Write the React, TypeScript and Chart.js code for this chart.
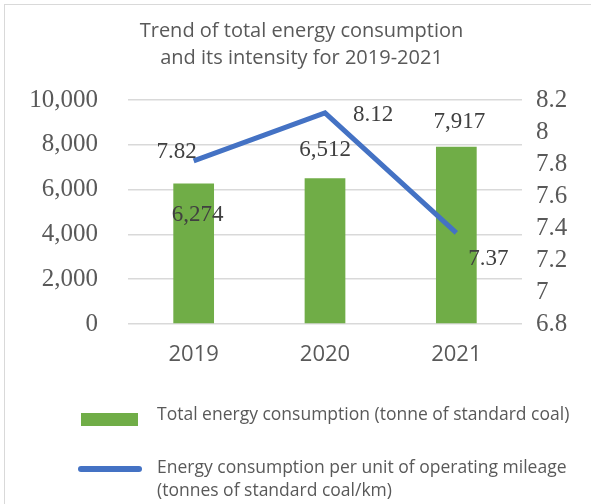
import React, { useEffect, useRef } from "react";
import { Chart, registerables } from "chart.js";

Chart.register(...registerables);

const years = ["2019", "2020", "2021"];
const totalConsumption = [6274, 6512, 7917];
const intensity = [7.82, 8.12, 7.37];
const leftTicks = [0, 2000, 4000, 6000, 8000, 10000];
const rightTicks = [6.8, 7, 7.2, 7.4, 7.6, 7.8, 8, 8.2];
const titleLines = ["Trend of total energy consumption", "and its intensity for 2019-2021"];
const legendBar = "Total energy consumption (tonne of standard coal)";
const legendLine = ["Energy consumption per unit of operating mileage", "(tonnes of standard coal/km)"];

// label placement offsets (pixels from element point / bar top)
const barLabelOffsets = [
  [4, 31],
  [0, -28],
  [3, -25],
];
const lineLabelOffsets = [
  [-17, -9],
  [48, 2],
  [32, 26],
];

const GREEN = "#70AD47";
const BLUE = "#4472C4";
const SERIF = "'Liberation Serif', 'Times New Roman', serif";
const SANS = "'Open Sans', 'Noto Sans', sans-serif";

const fmt = (v: number) => v.toLocaleString("en-US");

const labelPlugin = {
  id: "customLabels",
  afterDatasetsDraw(chart: any) {
    const ctx = chart.ctx;
    ctx.save();
    ctx.font = `23px ${SERIF}`;
    ctx.fillStyle = "#404040";
    ctx.textAlign = "center";
    ctx.textBaseline = "middle";
    const barMeta = chart.getDatasetMeta(0);
    barMeta.data.forEach((el: any, i: number) => {
      const [dx, dy] = barLabelOffsets[i];
      ctx.fillText(fmt(totalConsumption[i]), el.x + dx, el.y + dy);
    });
    const lineMeta = chart.getDatasetMeta(1);
    lineMeta.data.forEach((el: any, i: number) => {
      const [dx, dy] = lineLabelOffsets[i];
      ctx.fillText(intensity[i].toFixed(2), el.x + dx, el.y + dy);
    });
    // title
    ctx.font = `20px ${SANS}`;
    ctx.fillStyle = "#595959";
    titleLines.forEach((t, i) => ctx.fillText(t, 301.5, 31 + i * 27));
    ctx.restore();
  },
};

export default function App() {
  const ref = useRef<HTMLCanvasElement | null>(null);
  useEffect(() => {
    document.body.style.margin = "0";
    const canvas = ref.current;
    if (!canvas) return;
    const chart = new Chart(canvas, {
      type: "bar",
      data: {
        labels: years,
        datasets: [
          {
            type: "bar",
            label: legendBar,
            data: totalConsumption,
            backgroundColor: GREEN,
            yAxisID: "y",
            categoryPercentage: 1,
            barPercentage: 0.31,
            order: 2,
          },
          {
            type: "line",
            label: legendLine.join(" "),
            data: intensity,
            borderColor: BLUE,
            backgroundColor: BLUE,
            borderWidth: 5,
            pointRadius: 0,
            yAxisID: "y1",
            order: 1,
          } as any,
        ],
      },
      plugins: [labelPlugin],
      options: {
        responsive: false,
        animation: false,
        layout: { padding: { top: 100, left: 0, right: 0, bottom: 130 } },
        plugins: {
          legend: { display: false },
          title: { display: false },
          tooltip: { enabled: false },
        },
        scales: {
          x: {
            grid: { display: false, drawTicks: false },
            border: { display: false },
            ticks: {
              color: "#595959",
              font: { family: SANS, size: 22 },
              padding: 18,
              autoSkip: false,
              maxRotation: 0,
            },
            afterFit(scale: any) {
              scale.height = 50;
            },
          },
          y: {
            position: "left",
            min: 0,
            max: 10000,
            afterBuildTicks(scale: any) {
              scale.ticks = leftTicks.map((v) => ({ value: v }));
            },
            grid: { color: "#d9d9d9", lineWidth: 1.5, drawTicks: false },
            border: { display: false },
            ticks: {
              color: "#595959",
              font: { family: SERIF, size: 25 },
              padding: 30,
              autoSkip: false,
              callback: (v: any) => fmt(Number(v)),
            },
            afterFit(scale: any) {
              scale.width = 128;
            },
          },
          y1: {
            position: "right",
            min: 6.8,
            max: 8.2,
            afterBuildTicks(scale: any) {
              scale.ticks = rightTicks.map((v) => ({ value: v }));
            },
            grid: { display: false, drawTicks: false },
            border: { display: false },
            ticks: {
              color: "#595959",
              font: { family: SERIF, size: 25 },
              padding: 14,
              autoSkip: false,
              callback: (v: any) => String(Number(Number(v).toFixed(1))),
            },
            afterFit(scale: any) {
              scale.width = 69;
            },
          },
        },
      } as any,
    });
    return () => chart.destroy();
  }, []);

  const legendText: React.CSSProperties = {
    position: "absolute",
    left: 157,
    fontFamily: SANS,
    fontSize: 17.5,
    color: "#595959",
    whiteSpace: "nowrap",
    lineHeight: "23px",
  };

  return (
    <div style={{ position: "relative", width: 591, height: 504, overflow: "hidden", background: "#fff" }}>
      <canvas ref={ref} width={591} height={504} style={{ position: "absolute", left: 0, top: 0 }} />
      <div
        style={{
          position: "absolute",
          left: 4,
          top: 4,
          width: 700,
          height: 700,
          borderTop: "1.5px solid #d9d9d9",
          borderLeft: "1.5px solid #d9d9d9",
          pointerEvents: "none",
        }}
      />
      <div style={{ position: "absolute", left: 81, top: 413, width: 57, height: 13, background: GREEN }} />
      <div style={{ ...legendText, top: 402 }}>{legendBar}</div>
      <div
        style={{ position: "absolute", left: 78, top: 466, width: 64, height: 6, borderRadius: 3, background: BLUE }}
      />
      <div style={{ ...legendText, top: 455 }}>
        {legendLine[0]}
        <br />
        {legendLine[1]}
      </div>
    </div>
  );
}
